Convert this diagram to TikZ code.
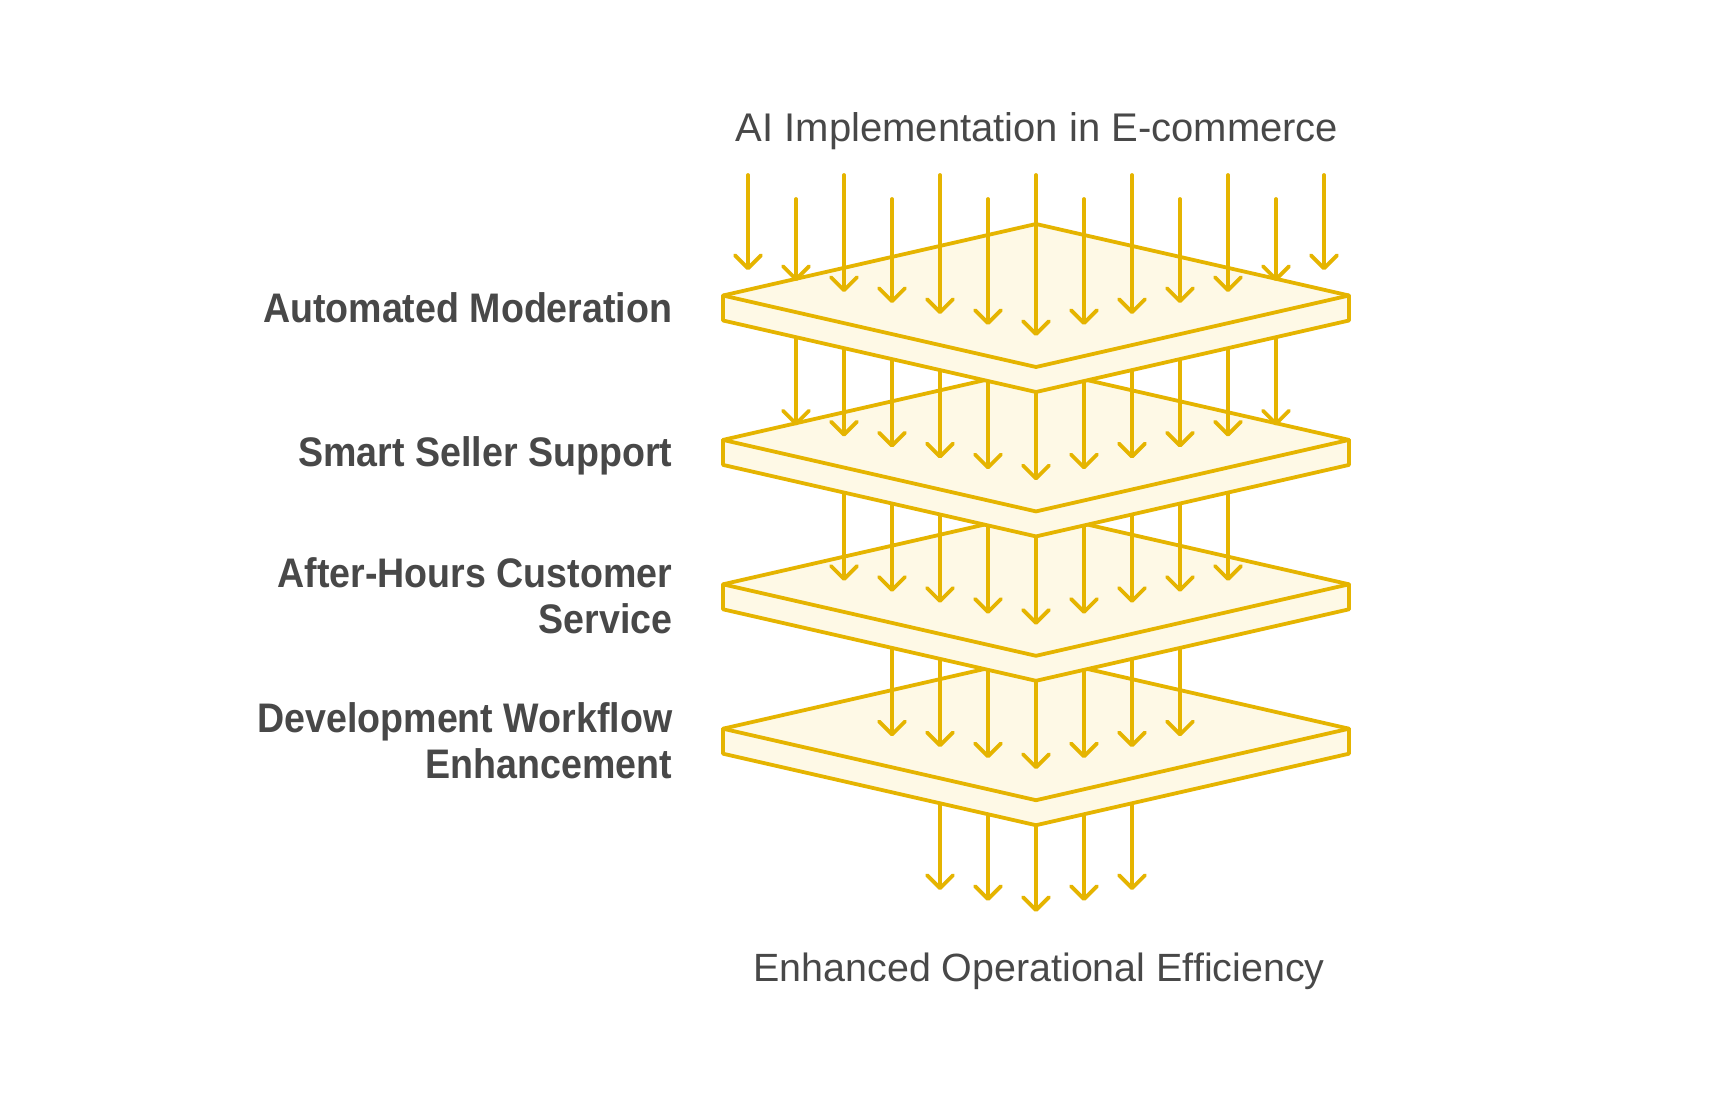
\documentclass[tikz,border=0pt]{standalone}
\usepackage{fontspec}
\setmainfont{Liberation Sans}
\newfontfamily\lblfont[FakeStretch=0.91]{Liberation Sans}
\usetikzlibrary{arrows.meta}
\definecolor{gold}{HTML}{E5B400}
\definecolor{cream}{HTML}{FEF9E6}
\definecolor{txt}{HTML}{484848}

\newcommand\drawslab[2]{% #1 name, #2 centre y of top face
  \coordinate (#1t) at (1036,{#2-71.5});
  \coordinate (#1r) at (1349,#2);
  \coordinate (#1rl) at (1349,{#2+25});
  \coordinate (#1bl) at (1036,{#2+96.5});
  \coordinate (#1ll) at (723,{#2+25});
  \coordinate (#1l) at (723,#2);
  \coordinate (#1b) at (1036,{#2+71.5});
  \path[slab] (#1t) -- (#1r) -- (#1rl) -- (#1bl) -- (#1ll) -- (#1l) -- cycle;
  \path[slabedge] (#1l) -- (#1b) -- (#1r);
}
\newcommand\drawflow[4]{% #1 name, #2 max |j|, #3 start centre (upper slab), #4 tip y at centre
  \foreach \j in {-#2,...,#2} {
    \pgfmathtruncatemacro\ii{\j+6}
    \pgfmathsetmacro\ax{1036+48*\j}
    \pgfmathsetmacro\sy{#3+71.5-10.96*abs(\j)+12}
    \pgfmathsetmacro\ty{#4-10.96*abs(\j)}
    \coordinate (#1s\ii) at (\ax,\sy);
    \coordinate (#1e\ii) at (\ax,\ty);
    \draw[flow] (#1s\ii) -- (#1e\ii);
  }
}

\begin{document}
\begin{tikzpicture}[x=1pt,y=-1pt,
  slab/.style={draw=gold, fill=cream, line width=3.8pt, line join=round, line cap=round},
  slabedge/.style={draw=gold, line width=3.8pt, line join=round, line cap=round},
  flow/.style={draw=gold, line width=3.8pt, line cap=round,
    -{Straight Barb[length=13pt,width=26pt,line cap=round,line join=round]}},
  ttl/.style={font=\fontsize{40}{48}\selectfont, text=txt, inner sep=0pt, anchor=base},
  lbl/.style={font=\lblfont\bfseries\fontsize{41.3}{48}\selectfont, text=txt, inner sep=0pt, anchor=base east}]
\useasboundingbox (0,0) rectangle (1732,1100);
\fill[white] (0,0) rectangle (1732,1100);

% exit arrows
\drawflow{f5}{2}{728.7}{912}
\drawslab{L4}{728.7}
\drawflow{f4}{3}{584.3}{769.2}
\drawslab{L3}{584.3}
\drawflow{f3}{4}{439.9}{624.8}
\drawslab{L2}{439.9}
\drawflow{f2}{5}{295.5}{480.4}
\drawslab{L1}{295.5}

% top arrows
\foreach \j in {-6,...,6} {
  \pgfmathtruncatemacro\ii{\j+6}
  \pgfmathsetmacro\ax{1036+48*\j}
  \pgfmathsetmacro\sy{ifthenelse(isodd(abs(\j)),199,175)}
  \pgfmathsetmacro\ty{336-10.96*abs(\j)}
  \coordinate (f1s\ii) at (\ax,\sy);
  \coordinate (f1e\ii) at (\ax,\ty);
  \draw[flow] (f1s\ii) -- (f1e\ii);
}

% texts
\node[ttl] (title) at (1037,141.7) {AI Implementation in E-commerce};
\node[ttl, font=\fontsize{39.4}{48}\selectfont] (result) at (1039,981.7) {Enhanced Operational Efficiency};

\node[lbl] (lab1) at (672.5,322.3) {Automated Moderation};
\node[lbl] (lab2) at (672.5,466) {Smart Seller Support};
\node[lbl] (lab3a) at (672.5,587) {After-Hours Customer};
\node[lbl] (lab3b) at (672.5,633.5) {Service};
\node[lbl] (lab4a) at (672.5,732) {Development Workflow};
\node[lbl] (lab4b) at (672.5,778.5) {Enhancement};
\end{tikzpicture}
\end{document}
